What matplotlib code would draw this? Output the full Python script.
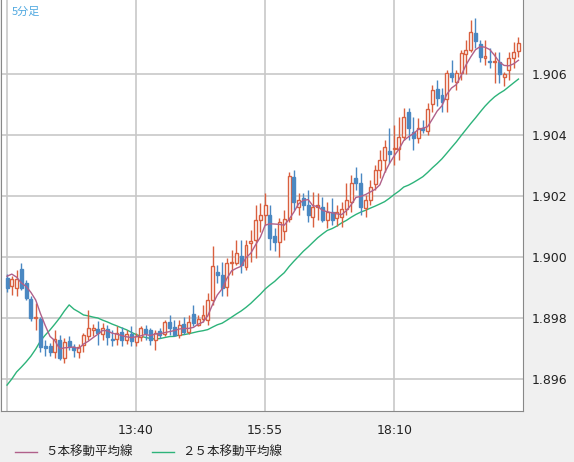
import numpy as np
import matplotlib
matplotlib.use("Agg")
import matplotlib.pyplot as plt
from matplotlib.patches import Rectangle
from matplotlib.lines import Line2D

# 5-minute candles, 11:25 .. 20:20
opens = [1.89931, 1.89905, 1.89898, 1.89961, 1.89915, 1.89862, 1.89800, 1.89797, 1.89708, 1.89708,
         1.89688, 1.89728, 1.89669, 1.89725, 1.89705, 1.89688, 1.89711, 1.89741, 1.89761, 1.89764,
         1.89747, 1.89764, 1.89731, 1.89731, 1.89754, 1.89728, 1.89747, 1.89721, 1.89738, 1.89764,
         1.89761, 1.89728, 1.89757, 1.89747, 1.89787, 1.89770, 1.89744, 1.89780, 1.89754, 1.89813,
         1.89777, 1.89797, 1.89793, 1.89859, 1.89951, 1.89941, 1.89902, 1.89980, 1.89980, 1.90003,
         1.89967, 1.90046, 1.90056, 1.90121, 1.90138, 1.90138, 1.90069, 1.90049, 1.90085, 1.90125,
         1.90262, 1.90164, 1.90194, 1.90171, 1.90131, 1.90164, 1.90164, 1.90121, 1.90148, 1.90128,
         1.90131, 1.90157, 1.90180, 1.90259, 1.90243, 1.90161, 1.90187, 1.90239, 1.90285, 1.90318,
         1.90348, 1.90354, 1.90354, 1.90394, 1.90476, 1.90410, 1.90390, 1.90423, 1.90413, 1.90502,
         1.90551, 1.90531, 1.90518, 1.90604, 1.90574, 1.90604, 1.90666, 1.90679, 1.90735, 1.90699,
         1.90653, 1.90643, 1.90640, 1.90640, 1.90590, 1.90613, 1.90653, 1.90676]
highs = [1.89944, 1.89938, 1.89957, 1.89980, 1.89925, 1.89872, 1.89849, 1.89803, 1.89728, 1.89718,
         1.89761, 1.89744, 1.89734, 1.89741, 1.89715, 1.89715, 1.89751, 1.89826, 1.89780, 1.89790,
         1.89784, 1.89777, 1.89761, 1.89774, 1.89770, 1.89761, 1.89774, 1.89751, 1.89774, 1.89777,
         1.89767, 1.89761, 1.89767, 1.89793, 1.89810, 1.89793, 1.89793, 1.89803, 1.89810, 1.89843,
         1.89810, 1.89843, 1.89882, 1.90036, 1.89974, 1.89984, 1.89997, 1.90023, 1.90056, 1.90056,
         1.90056, 1.90089, 1.90171, 1.90177, 1.90210, 1.90171, 1.90095, 1.90128, 1.90154, 1.90279,
         1.90285, 1.90210, 1.90210, 1.90220, 1.90213, 1.90210, 1.90197, 1.90180, 1.90194, 1.90171,
         1.90180, 1.90243, 1.90269, 1.90295, 1.90276, 1.90203, 1.90253, 1.90302, 1.90351, 1.90384,
         1.90423, 1.90433, 1.90459, 1.90489, 1.90489, 1.90459, 1.90456, 1.90449, 1.90505, 1.90564,
         1.90581, 1.90554, 1.90613, 1.90646, 1.90613, 1.90679, 1.90712, 1.90777, 1.90784, 1.90712,
         1.90712, 1.90686, 1.90672, 1.90672, 1.90607, 1.90672, 1.90705, 1.90722]
lows = [1.89885, 1.89875, 1.89872, 1.89892, 1.89859, 1.89790, 1.89761, 1.89688, 1.89675, 1.89675,
        1.89669, 1.89662, 1.89652, 1.89695, 1.89672, 1.89669, 1.89688, 1.89728, 1.89741, 1.89711,
        1.89728, 1.89711, 1.89708, 1.89711, 1.89708, 1.89715, 1.89708, 1.89708, 1.89725, 1.89728,
        1.89711, 1.89695, 1.89734, 1.89741, 1.89744, 1.89741, 1.89734, 1.89747, 1.89747, 1.89774,
        1.89774, 1.89787, 1.89777, 1.89843, 1.89915, 1.89872, 1.89872, 1.89941, 1.89974, 1.89948,
        1.89957, 1.89984, 1.89997, 1.90082, 1.90105, 1.90023, 1.90020, 1.90000, 1.90056, 1.90115,
        1.90154, 1.90138, 1.90154, 1.90115, 1.90098, 1.90121, 1.90115, 1.90095, 1.90105, 1.90102,
        1.90098, 1.90138, 1.90148, 1.90220, 1.90138, 1.90131, 1.90171, 1.90220, 1.90259, 1.90279,
        1.90308, 1.90302, 1.90318, 1.90384, 1.90384, 1.90351, 1.90374, 1.90407, 1.90400, 1.90476,
        1.90495, 1.90476, 1.90476, 1.90574, 1.90548, 1.90581, 1.90600, 1.90672, 1.90686, 1.90640,
        1.90630, 1.90620, 1.90571, 1.90571, 1.90561, 1.90581, 1.90620, 1.90656]
closes = [1.89898, 1.89928, 1.89928, 1.89898, 1.89866, 1.89800, 1.89803, 1.89705, 1.89702, 1.89688,
          1.89731, 1.89669, 1.89721, 1.89708, 1.89695, 1.89705, 1.89744, 1.89767, 1.89767, 1.89751,
          1.89767, 1.89738, 1.89728, 1.89751, 1.89728, 1.89747, 1.89725, 1.89741, 1.89767, 1.89751,
          1.89728, 1.89751, 1.89744, 1.89787, 1.89767, 1.89744, 1.89777, 1.89754, 1.89787, 1.89784,
          1.89797, 1.89810, 1.89859, 1.89971, 1.89941, 1.89898, 1.89980, 1.89984, 1.90013, 1.89974,
          1.90039, 1.90053, 1.90121, 1.90138, 1.90171, 1.90062, 1.90049, 1.90115, 1.90125, 1.90266,
          1.90180, 1.90187, 1.90171, 1.90138, 1.90164, 1.90171, 1.90121, 1.90148, 1.90121, 1.90148,
          1.90157, 1.90187, 1.90243, 1.90243, 1.90164, 1.90187, 1.90230, 1.90285, 1.90318, 1.90361,
          1.90338, 1.90358, 1.90394, 1.90459, 1.90423, 1.90390, 1.90423, 1.90417, 1.90485, 1.90548,
          1.90522, 1.90508, 1.90604, 1.90590, 1.90604, 1.90669, 1.90679, 1.90738, 1.90709, 1.90656,
          1.90659, 1.90640, 1.90643, 1.90600, 1.90600, 1.90653, 1.90672, 1.90702]

# moving-average values before enough visible candles exist
ma5_head = [1.89937, 1.89944, 1.89934, 1.89915]
ma25_head = [1.89580, 1.89600, 1.89623, 1.89639, 1.89656, 1.89675, 1.89698, 1.89725, 1.89744, 1.89761,
             1.89780, 1.89800, 1.89823, 1.89843, 1.89829, 1.89820, 1.89810, 1.89807, 1.89803, 1.89800,
             1.89793, 1.89787, 1.89780, 1.89774]

tick_idx = [0, 27, 54, 81]
tick_labels = ["", "13:40", "15:55", "18:10"]
y_ticks = [1.896, 1.898, 1.900, 1.902, 1.904, 1.906]

UP = "#d9603f"
DOWN = "#4a88c2"
MA5_C = "#b0608a"
MA25_C = "#2db37a"

c = np.array(closes)
ma5 = list(ma5_head) + [c[i - 4:i + 1].mean() for i in range(4, len(c))]
ma25 = list(ma25_head) + [c[i - 24:i + 1].mean() for i in range(24, len(c))]

plt.rcParams['font.family'] = ['Noto Sans CJK JP', 'DejaVu Sans']
fig = plt.figure(figsize=(5.74, 4.62), dpi=100, facecolor="#f0f0f0")
ax = fig.add_axes([1 / 574, 51 / 462, 522 / 574, 411 / 462])
ax.set_facecolor("white")

x = np.arange(len(closes))
w = 0.62
for i in x:
    o, h, l, cl = opens[i], highs[i], lows[i], closes[i]
    up = cl >= o
    col = UP if up else DOWN
    lo, hi = min(o, cl), max(o, cl)
    ax.vlines(i, l, lo, color=col, lw=1, zorder=3)
    ax.vlines(i, hi, h, color=col, lw=1, zorder=3)
    body = max(hi - lo, 0.000015)
    if up:
        ax.add_patch(Rectangle((i - w / 2, lo), w, body, facecolor="white",
                               edgecolor=col, lw=1, zorder=4))
    else:
        ax.add_patch(Rectangle((i - w / 2, lo), w, body, facecolor=col,
                               edgecolor=col, lw=1, zorder=4))

ax.plot(x, ma5, color=MA5_C, lw=1, zorder=5)
ax.plot(x, ma25, color=MA25_C, lw=1, zorder=2)

ax.set_xlim(-1.26, 107.95)
ax.set_ylim(1.89495, 1.90843)
ax.set_xticks(tick_idx)
ax.set_xticklabels(tick_labels, fontsize=9, family="DejaVu Sans")
ax.set_yticks(y_ticks)
ax.set_yticklabels([f"{v:.3f}" for v in y_ticks], fontsize=9, family="DejaVu Sans")
ax.yaxis.tick_right()
ax.tick_params(length=0, pad=6, colors="#222222")
ax.tick_params(axis="x", pad=9)
ax.grid(True, color="#c8c8c8", lw=1.2)
ax.set_axisbelow(True)
for s in ["top"]:
    ax.spines[s].set_visible(False)
for s in ["left", "right", "bottom"]:
    ax.spines[s].set_color("#888888")

fig.text(12 / 574, 1 - 12 / 462, "5分足", color="#4fa8e0", fontsize=8, va="center")

fig.add_artist(Line2D([15 / 574, 37 / 574], [1 - 452 / 462] * 2, color=MA5_C, lw=1))
fig.text(45 / 574, 1 - 452 / 462, "５本移動平均線", fontsize=9, va="center", color="#222222")
fig.add_artist(Line2D([152 / 574, 174 / 574], [1 - 452 / 462] * 2, color=MA25_C, lw=1))
fig.text(182 / 574, 1 - 452 / 462, "２５本移動平均線", fontsize=9, va="center", color="#222222")

fig.savefig("out.png", dpi=100, facecolor=fig.get_facecolor())
